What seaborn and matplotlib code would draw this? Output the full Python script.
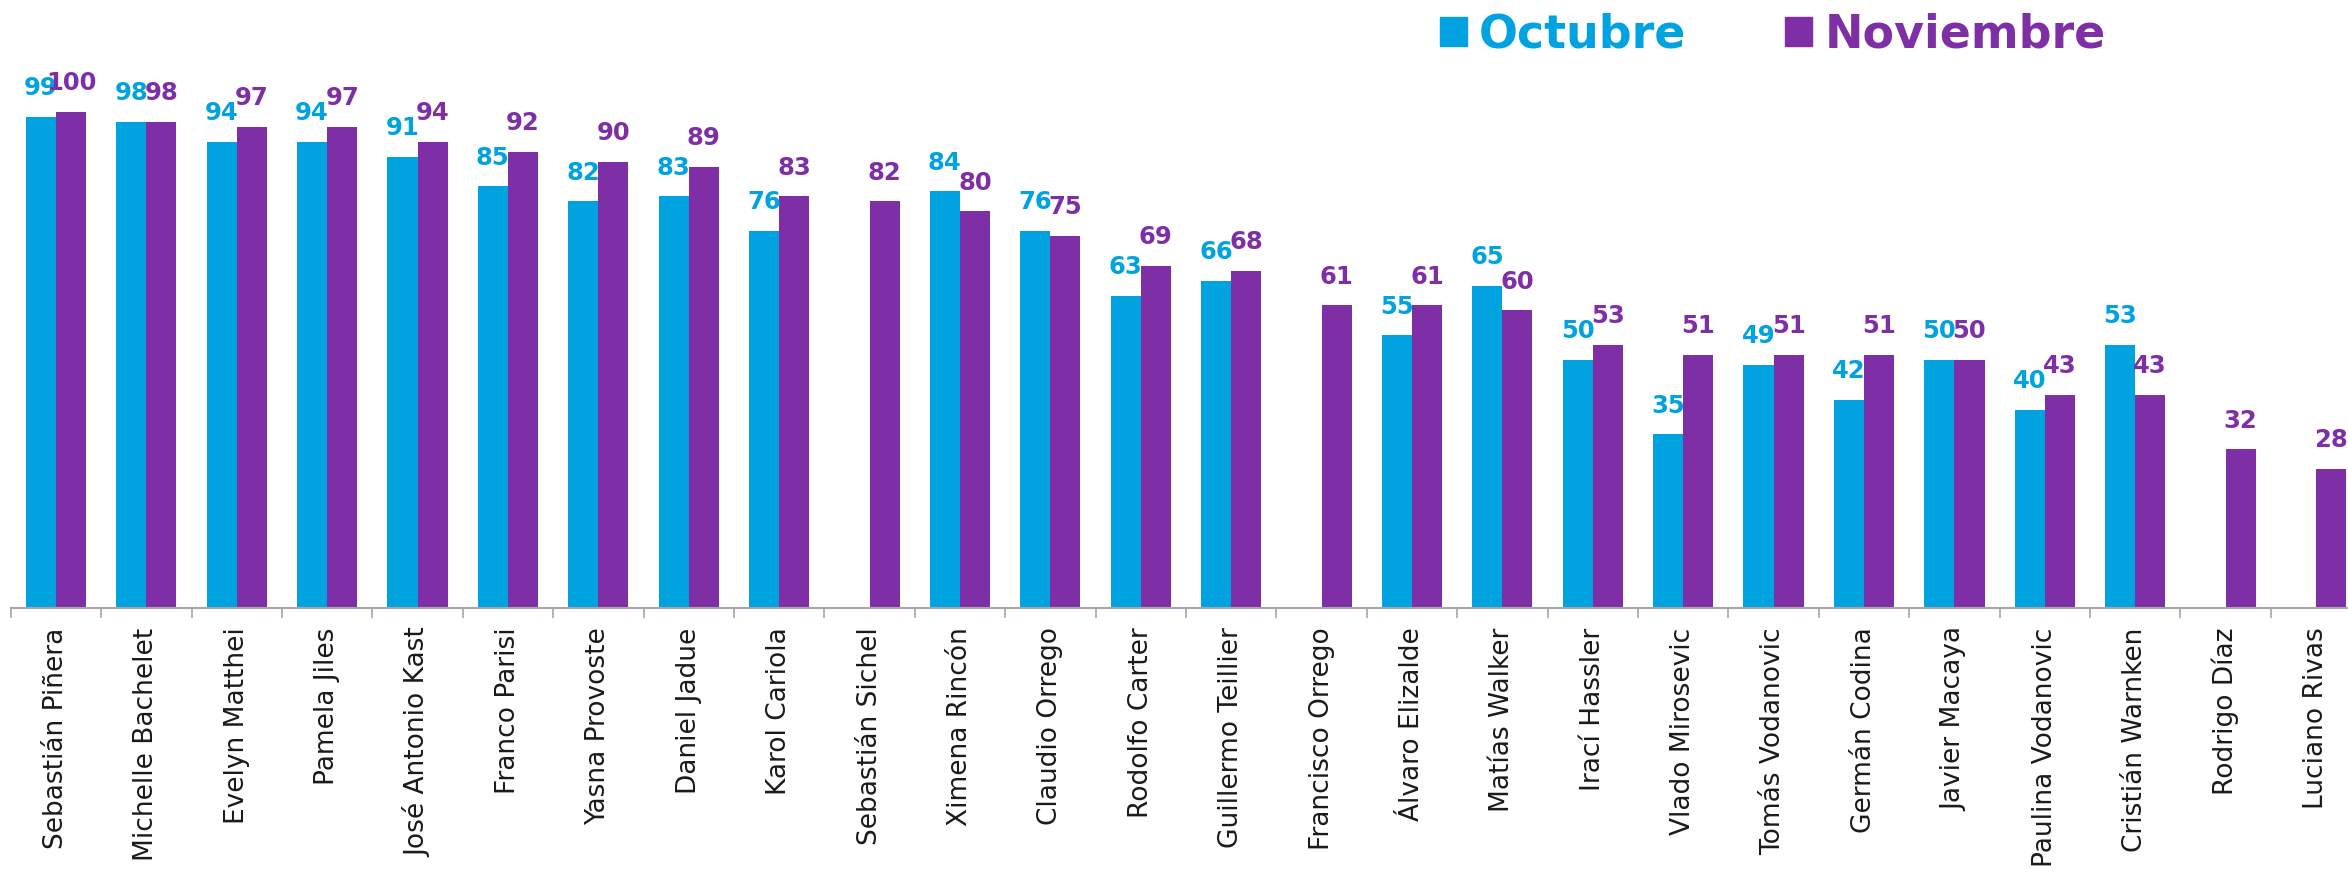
import numpy as np
import pandas as pd
import matplotlib.pyplot as plt
import seaborn as sns
from matplotlib.patches import Patch

sns.set_theme(style='white')
plt.rcParams['font.family'] = ['DejaVu Sans']

# datos
nombres = ['Sebastián Piñera', 'Michelle Bachelet', 'Evelyn Matthei', 'Pamela Jiles',
           'José Antonio Kast', 'Franco Parisi', 'Yasna Provoste', 'Daniel Jadue',
           'Karol Cariola', 'Sebastián Sichel', 'Ximena Rincón', 'Claudio Orrego',
           'Rodolfo Carter', 'Guillermo Teillier', 'Francisco Orrego', 'Álvaro Elizalde',
           'Matías Walker', 'Irací Hassler', 'Vlado Mirosevic', 'Tomás Vodanovic',
           'Germán Codina', 'Javier Macaya', 'Paulina Vodanovic', 'Cristián Warnken',
           'Rodrigo Díaz', 'Luciano Rivas']
octubre = [99, 98, 94, 94, 91, 85, 82, 83, 76, np.nan, 84, 76, 63, 66, np.nan, 55,
           65, 50, 35, 49, 42, 50, 40, 53, np.nan, np.nan]
noviembre = [100, 98, 97, 97, 94, 92, 90, 89, 83, 82, 80, 75, 69, 68, 61, 61,
             60, 53, 51, 51, 51, 50, 43, 43, 32, 28]
meses = ['Octubre', 'Noviembre']
colores = ['#00A3E0', '#7F2FA5']

df = pd.DataFrame({
    'nombre': nombres * 2,
    'mes': ['Octubre'] * len(nombres) + ['Noviembre'] * len(nombres),
    'valor': octubre + noviembre,
}).dropna()

fig = plt.figure(figsize=(23.48, 8.74), dpi=100)
ax = fig.add_axes([10.7 / 2348, 266 / 874, 1 - 10.7 / 2348, 608 / 874])

sns.barplot(data=df, x='nombre', y='valor', hue='mes', order=nombres, hue_order=meses,
            palette=colores, width=0.668, saturation=1, errorbar=None, legend=False,
            linewidth=0, ax=ax)

for cont, c in zip(ax.containers, colores):
    ax.bar_label(cont, fmt='%d', padding=12, color=c, fontsize=17.5, fontweight='bold')

ax.set_ylim(0, 122.6)
ax.set_xlim(-0.5, 25.355)
ax.set_yticks([])
ax.set_xlabel('')
ax.set_ylabel('')
sns.despine(ax=ax, left=True)
ax.spines['bottom'].set_color('#A6A6A6')
ax.spines['bottom'].set_linewidth(1.5)

ax.set_xticks(range(len(nombres)))
ax.set_xticklabels(nombres, rotation=90, fontsize=19, color='#1a1a1a')
ax.set_xticks(np.arange(len(nombres)) - 0.5, minor=True)
ax.tick_params(axis='x', which='major', length=0, pad=14)
ax.tick_params(axis='x', which='minor', bottom=True, length=7, width=1.2,
               color='#A6A6A6', direction='out')

handles = [Patch(color=c) for c in colores]
fig.legend(handles, meses, loc='center left', bbox_to_anchor=(1440 / 2348, 1 - 35 / 874),
           ncol=2, frameon=False, prop={'weight': 'bold', 'size': 33}, labelcolor=colores,
           handlelength=0.59, handleheight=0.59, handletextpad=0.26, columnspacing=2.16,
           borderpad=0, borderaxespad=0)

fig.savefig('out.png', dpi=100)
